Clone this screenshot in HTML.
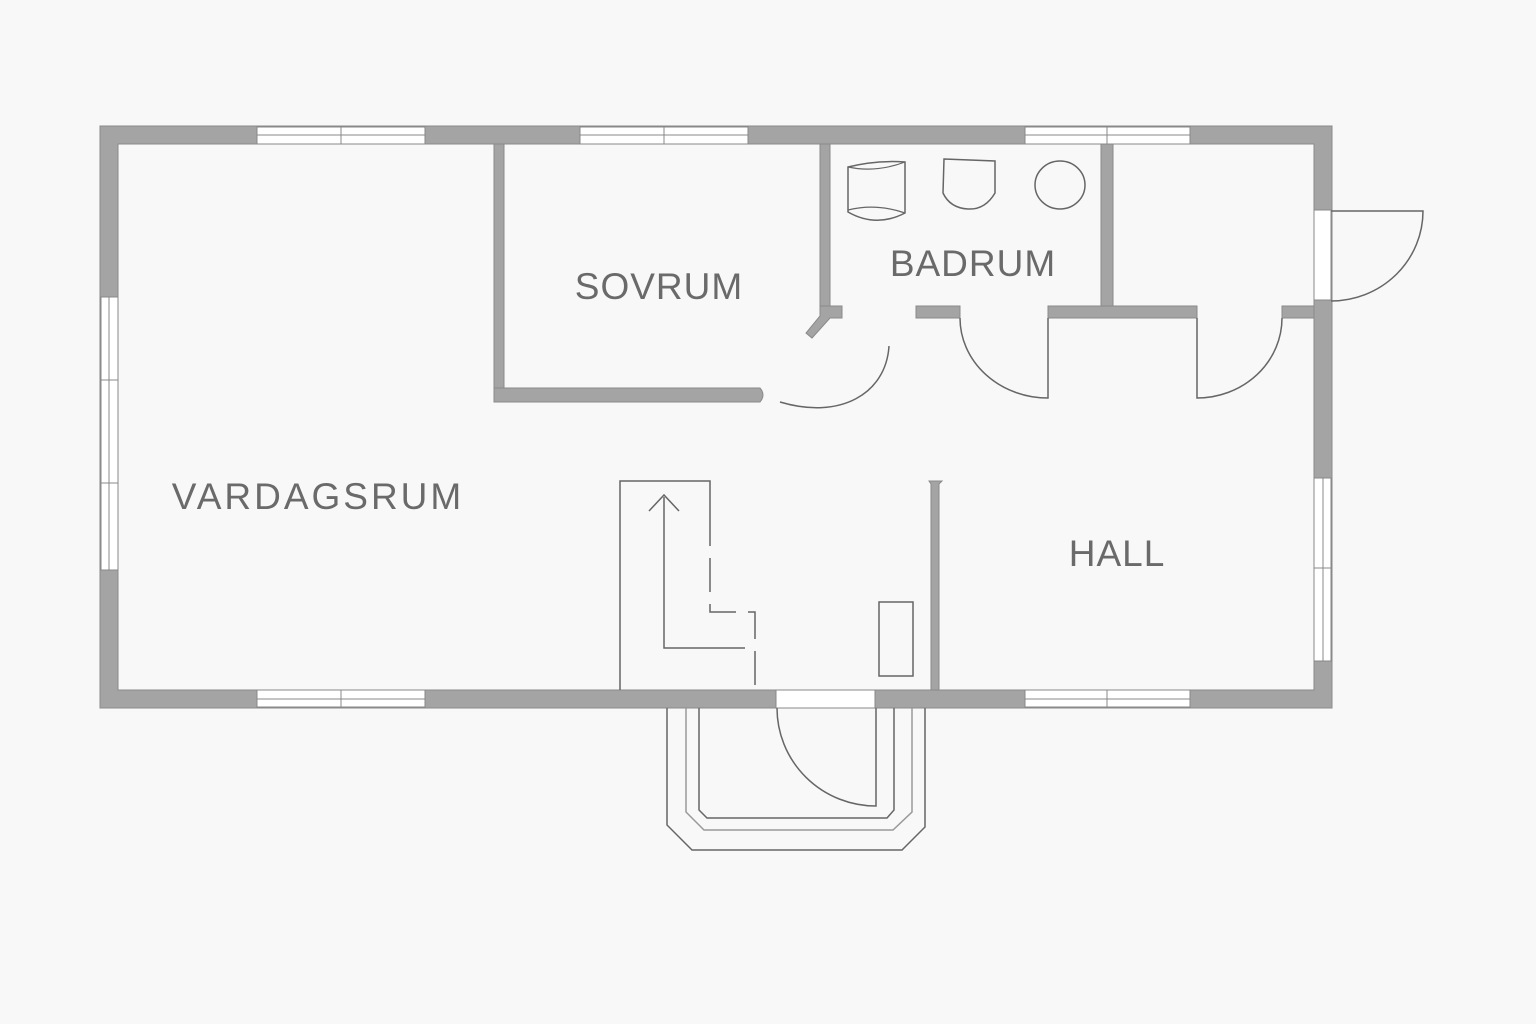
<!DOCTYPE html>
<html><head><meta charset="utf-8"><style>
html,body{margin:0;padding:0;background:#f8f8f8;}
svg{display:block}
text{font-family:"Liberation Sans",sans-serif;fill:#6a6a6a;font-size:37px;text-anchor:middle;letter-spacing:1px}
</style></head><body>
<svg width="1536" height="1024" viewBox="0 0 1536 1024" xmlns="http://www.w3.org/2000/svg">
<rect width="1536" height="1024" fill="#f8f8f8"/>
<g fill="#a4a4a4" stroke="#8a8a8a" stroke-width="1">
<path fill-rule="evenodd" d="M100,126 H1332 V708 H100 Z M118,144 V690 H1314 V144 Z"/>
<rect x="494" y="144" width="10" height="258"/>
<path d="M494,388 H760 Q766,395 760,402 H494 Z"/>
<rect x="820" y="144" width="10" height="162"/>
<path d="M820,306 H842 V318 H830 L812,338 L806,333 L820,316 Z"/>
<rect x="916" y="306" width="44" height="12"/>
<rect x="1048" y="306" width="149" height="12"/>
<rect x="1101" y="144" width="12" height="162"/>
<rect x="1282" y="306" width="32" height="12"/>
<path d="M929,481 H942 L939,484 V690 H931 V484 Z"/>
</g>
<g fill="#ffffff" stroke="#888" stroke-width="1">
<rect x="257" y="127" width="168" height="17"/><line x1="257" y1="135" x2="425" y2="135"/><line x1="341" y1="127" x2="341" y2="144"/>
<rect x="580" y="127" width="168" height="17"/><line x1="580" y1="135" x2="748" y2="135"/><line x1="664" y1="127" x2="664" y2="144"/>
<rect x="1025" y="127" width="165" height="17"/><line x1="1025" y1="135" x2="1190" y2="135"/><line x1="1107" y1="127" x2="1107" y2="144"/>
<rect x="257" y="690" width="168" height="17"/><line x1="257" y1="699" x2="425" y2="699"/><line x1="341" y1="690" x2="341" y2="707"/>
<rect x="1025" y="690" width="165" height="17"/><line x1="1025" y1="699" x2="1190" y2="699"/><line x1="1107" y1="690" x2="1107" y2="707"/>
<rect x="101" y="297" width="17" height="273"/><line x1="109" y1="297" x2="109" y2="570"/><line x1="101" y1="380" x2="118" y2="380"/><line x1="101" y1="483" x2="118" y2="483"/>
<rect x="1314" y="478" width="17" height="183"/><line x1="1323" y1="478" x2="1323" y2="661"/><line x1="1314" y1="568" x2="1331" y2="568"/>
<rect x="1314" y="210" width="17" height="90"/>
<rect x="776" y="690" width="99" height="18"/>
</g>
<g fill="none" stroke="#666" stroke-width="1.5">
<path d="M1331,211 H1423 A92,90 0 0 1 1331,301"/>
<path d="M889,346 C886,394 840,420 780,402"/>
<path d="M960,318 A88,80 0 0 0 1048,398 V318"/>
<path d="M1282,318 A85,80 0 0 1 1197,398 V318"/>
<path d="M777,708 A99,98 0 0 0 876,806 V708"/>
<path d="M667,708 V825 L692,850 H902 L925,827 V708"/>
<path d="M686,708 V812 L704,830 H893 L912,812 V708" stroke="#999"/>
<path d="M699,708 V810 L707,818 H887 L894,810 V708"/>
<path d="M620,690 V481 H710 V512"/>
<path d="M710,512 V612 H755 V690" stroke-dasharray="34,12"/>
<path d="M664,497 V648 H745"/>
<path d="M649,511 L664,495 L679,511"/>
<rect x="879" y="602" width="34" height="74"/>
<path d="M848,167 Q876,160 905,162 V213 Q876,228 848,212 Z"/>
<path d="M848,167 Q876,173 905,162 M848,210 Q876,203 905,213" stroke-width="1.2"/>
<path d="M944,159 L995,161 V193 Q985,210 968,209 Q950,208 943,193 Z"/>
<ellipse cx="1060" cy="185" rx="25" ry="24"/>
</g>
<text x="659" y="299">SOVRUM</text>
<text x="973" y="276">BADRUM</text>
<text x="318" y="509" style="letter-spacing:3px">VARDAGSRUM</text>
<text x="1117" y="566">HALL</text>
</svg>
</body></html>
